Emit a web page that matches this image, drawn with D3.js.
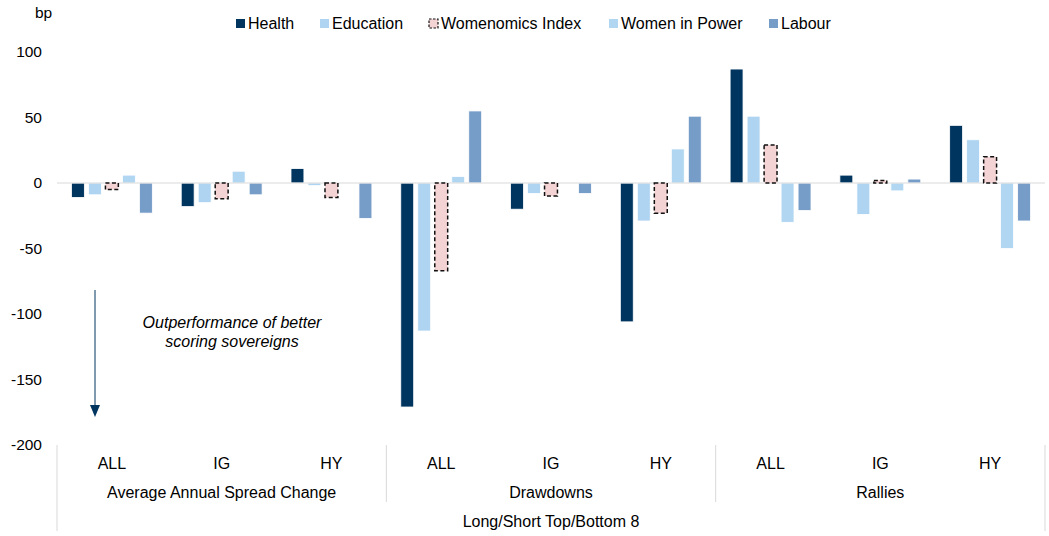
<!DOCTYPE html>
<html>
<head>
<meta charset="utf-8">
<script src="https://cdn.jsdelivr.net/npm/d3@7"></script>
<style>
  body { margin: 0; background: #fff; }
  text { font-family: "Liberation Sans", Arial, sans-serif; fill: #000; }
</style>
</head>
<body>
<div id="chart"></div>
<script>
const groups = ["Average Annual Spread Change", "Drawdowns", "Rallies"];
const subCats = ["ALL", "IG", "HY"];
const series = ["Health", "Education", "Womenomics Index", "Women in Power", "Labour"];
const yTicks = [100, 50, 0, -50, -100, -150, -200];

// values per series, in order: AASC ALL/IG/HY, Drawdowns ALL/IG/HY, Rallies ALL/IG/HY
const health     = [-11, -18, 11, -171, -20, -106, 87, 6, 44];
const education  = [-9, -15, -2, -113, -8, -29, 51, -24, 33];
const womenomics = [-5, -12, -11, -67, -10, -23, 29, 2, 20];
const womenPower = [6, 9, -0.5, 5, 0, 26, -30, -6, -50];
const labour     = [-23, -9, -27, 55, -8, 51, -21, 3, -29];

const seriesValues = [health, education, womenomics, womenPower, labour];
const colors = ["#00355f", "#aed4f1", "#f4d3d4", "#b0d6f1", "#769cc8"];

const width = 1049, height = 536;
const plotLeft = 57, plotRight = 1045, plotTop = 52, plotBottom = 445;

const svg = d3.select("#chart").append("svg")
    .attr("width", width)
    .attr("height", height);

const cats = [];
groups.forEach((g, gi) => subCats.forEach((s, si) => cats.push({ group: g, sub: s, key: g + "|" + s, idx: gi * 3 + si })));

const x0 = d3.scaleBand().domain(cats.map(d => d.key)).range([plotLeft, plotRight]);
const x1 = d3.scaleBand().domain(series).range([0, x0.bandwidth()])
    .paddingInner(0.24).paddingOuter(0.85);
const y = d3.scaleLinear().domain([-200, 100]).range([plotBottom, plotTop]);

// y axis labels
svg.append("g")
    .selectAll("text")
    .data(yTicks)
    .enter()
    .append("text")
    .attr("x", 42)
    .attr("y", d => y(d))
    .attr("dy", "0.35em")
    .attr("text-anchor", "end")
    .style("font-size", "15.5px")
    .text(d => d);

svg.append("text")
    .attr("x", 35)
    .attr("y", 18)
    .style("font-size", "15.5px")
    .text("bp");

// bars
const barData = [];
cats.forEach(c => series.forEach((s, si) => barData.push({ cat: c.key, series: s, si: si, v: seriesValues[si][c.idx] })));

svg.append("g")
    .selectAll("rect")
    .data(barData.filter(d => d.si !== 2))
    .enter()
    .append("rect")
    .attr("x", d => x0(d.cat) + x1(d.series))
    .attr("y", d => Math.min(y(d.v), y(0)))
    .attr("width", x1.bandwidth())
    .attr("height", d => Math.abs(y(d.v) - y(0)))
    .attr("fill", d => colors[d.si])
    .attr("stroke", "#fff")
    .attr("stroke-width", 0.8);

// zero line
svg.append("line")
    .attr("x1", plotLeft).attr("x2", plotRight)
    .attr("y1", y(0)).attr("y2", y(0))
    .attr("stroke", "#d9d9d9")
    .attr("stroke-width", 1.2);

// womenomics bars with dashed border
svg.append("g")
    .selectAll("rect")
    .data(barData.filter(d => d.si === 2))
    .enter()
    .append("rect")
    .attr("x", d => x0(d.cat) + x1(d.series))
    .attr("y", d => Math.min(y(d.v), y(0)))
    .attr("width", x1.bandwidth())
    .attr("height", d => Math.abs(y(d.v) - y(0)))
    .attr("fill", colors[2])
    .attr("stroke", "#111")
    .attr("stroke-width", 1.5)
    .attr("stroke-dasharray", "4,2.5");

// category axis
const axisG = svg.append("g");
axisG.selectAll(".sub")
    .data(cats)
    .enter()
    .append("text")
    .attr("x", d => x0(d.key) + x0.bandwidth() / 2)
    .attr("y", 463)
    .attr("dy", "0.35em")
    .attr("text-anchor", "middle")
    .style("font-size", "16px")
    .text(d => d.sub);

const groupW = x0.bandwidth() * 3;
axisG.selectAll(".grp")
    .data(groups)
    .enter()
    .append("text")
    .attr("x", (d, i) => plotLeft + groupW * i + groupW / 2)
    .attr("y", 492)
    .attr("dy", "0.35em")
    .attr("text-anchor", "middle")
    .style("font-size", "16px")
    .text(d => d);

axisG.append("text")
    .attr("x", (plotLeft + plotRight) / 2)
    .attr("y", 521)
    .attr("dy", "0.35em")
    .attr("text-anchor", "middle")
    .style("font-size", "16px")
    .text("Long/Short Top/Bottom 8");

// separators
[0, 1, 2, 3].forEach(i => {
    const full = i === 0 || i === 3;
    axisG.append("line")
        .attr("x1", plotLeft + groupW * i).attr("x2", plotLeft + groupW * i)
        .attr("y1", plotBottom).attr("y2", full ? 531 : 502)
        .attr("stroke", "#d9d9d9")
        .attr("stroke-width", 1);
});

// annotation arrow
svg.append("line")
    .attr("x1", 95).attr("x2", 95)
    .attr("y1", 290).attr("y2", 407)
    .attr("stroke", "#00355f")
    .attr("stroke-width", 1);

svg.append("path")
    .attr("d", "M90,405 L100,405 L95,417 Z")
    .attr("fill", "#00355f");

const note = svg.append("text")
    .attr("text-anchor", "middle")
    .style("font-size", "16px")
    .style("font-style", "italic");
note.append("tspan").attr("x", 232).attr("y", 328).text("Outperformance of better");
note.append("tspan").attr("x", 232).attr("y", 347).text("scoring sovereigns");

// legend
const legendX = [236, 320, 429, 609, 769];
const legend = svg.append("g");
const items = legend.selectAll("g")
    .data(series)
    .enter()
    .append("g")
    .attr("transform", (d, i) => `translate(${legendX[i]}, 19)`);

items.append("rect")
    .attr("width", 9).attr("height", 9)
    .attr("fill", (d, i) => colors[i])
    .attr("stroke", (d, i) => i === 2 ? "#111" : "none")
    .attr("stroke-width", 1.2)
    .attr("stroke-dasharray", "2.5,1.5");

items.append("text")
    .attr("x", 12)
    .attr("y", 4.5)
    .attr("dy", "0.35em")
    .style("font-size", "16px")
    .text(d => d);
</script>
</body>
</html>
